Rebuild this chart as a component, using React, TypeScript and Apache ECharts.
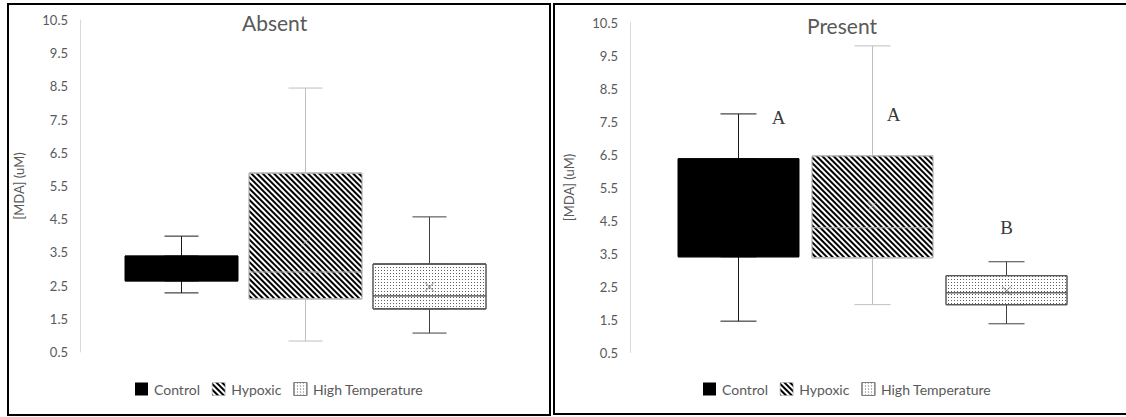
import React, { useEffect, useRef } from "react";
import * as echarts from "echarts";

// ---------- data ----------
const categories = ["Control", "Hypoxic", "High Temperature"];
const panelTitles = ["Absent", "Present"];
const yAxisName = "[MDA] (uM)";
const yTickLabels = [0.5, 1.5, 2.5, 3.5, 4.5, 5.5, 6.5, 7.5, 8.5, 9.5, 10.5];

// box values: [min, Q1, median, Q3, max]
const absentControl = [2.28, 2.64, 3.0, 3.39, 3.99];
const absentHypoxic = [0.83, 2.1, 2.91, 5.89, 8.45];
const absentHighTemp = [1.07, 1.8, 2.19, 3.15, 4.57];
const presentControl = [1.45, 3.4, 4.9, 6.37, 7.73];
const presentHypoxic = [1.95, 3.37, 4.28, 6.46, 9.79];
const presentHighTemp = [1.37, 1.95, 2.31, 2.83, 3.25];

// means (x markers); null = not visible
const absentMeans = [null, 3.81, 2.46];
const presentMeans = [null, 4.94, 2.37];

// significance letters (Present panel)
const presentLetters = ["A", "A", "B"];
const presentLetterValues = [7.61, 7.7, 4.28];

// ---------- styles ----------
const FONT = "Lato";
const GREY = "#595959";
const hatchDecal = {
  symbol: "rect",
  symbolSize: 1,
  color: "#000",
  backgroundColor: "#fff",
  dashArrayX: [1, 0],
  dashArrayY: [1.5, 1.5],
  rotation: Math.PI / 4,
};
const dotDecal = {
  symbol: "rect",
  symbolSize: 1,
  color: "#606060",
  backgroundColor: "#fff",
  dashArrayX: [1, 2],
  dashArrayY: [1, 2],
  rotation: 0,
};
const boxStyles = [
  { color: "#000", borderColor: "#000", borderWidth: 1 },
  { color: "#fff", borderColor: "#bfbfbf", borderWidth: 1, decal: hatchDecal },
  { color: "#fff", borderColor: "#595959", borderWidth: 1, decal: dotDecal },
];
const whiskerColors = ["#1a1a1a", "#bfbfbf", "#404040"];
const legendStyles = [
  { color: "#000", borderWidth: 0 },
  { color: "#fff", decal: hatchDecal, borderColor: "#bfbfbf", borderWidth: 0.5 },
  { color: "#fff", decal: dotDecal, borderColor: "#7f7f7f", borderWidth: 1 },
];
const meanColors = ["#000", "#c0c0c0", "#595959"];
const letterOffsets = [
  [40, 0],
  [21, 0],
  [0, 0],
];

const panels = [
  {
    grid: { left: 119.5, top: 20, width: 372, height: 332 },
    yOffset: 39.5,
    boxWidth: 113,
    capWidth: 34,
    boxes: [absentControl, absentHypoxic, absentHighTemp],
    means: absentMeans,
    titleLeft: 242,
    titleTop: 12,
    legendLeft: 135,
    letters: null as null | string[],
    letterValues: null as null | number[],
  },
  {
    grid: { left: 671.5, top: 22.5, width: 402, height: 330 },
    yOffset: 41.5,
    boxWidth: 121,
    capWidth: 36,
    boxes: [presentControl, presentHypoxic, presentHighTemp],
    means: presentMeans,
    titleLeft: 807,
    titleTop: 15,
    legendLeft: 703,
    letters: presentLetters,
    letterValues: presentLetterValues,
  },
];

function buildOption() {
  const grids: any[] = [];
  const xAxes: any[] = [];
  const yAxes: any[] = [];
  const series: any[] = [];
  const titles: any[] = [];
  const legends: any[] = [];

  panels.forEach((p, pi) => {
    grids.push({ ...p.grid, containLabel: false });
    yAxes.push({
      type: "value",
      gridIndex: pi,
      min: 0.5,
      max: 10.5,
      interval: 0.5,
      offset: p.yOffset,
      name: yAxisName,
      nameLocation: "middle",
      nameRotate: 90,
      nameGap: 55,
      nameTextStyle: { fontFamily: FONT, fontSize: 13, color: GREY },
      axisLine: { show: true, lineStyle: { color: "#d9d9d9", width: 1 } },
      axisTick: { show: false },
      splitLine: { show: false },
      axisLabel: {
        margin: 12,
        fontFamily: FONT,
        fontSize: 13,
        color: GREY,
        formatter: (v: number) =>
          yTickLabels.some((t) => Math.abs(t - v) < 1e-6) ? v.toFixed(1) : "",
      },
    });
    const firstAxis = xAxes.length;
    // hidden category axes: one per boxplot series so boxes are not offset
    categories.forEach((_, ci) => {
      const b = p.boxes[ci];
      // whiskers (narrow caps)
      xAxes.push({ type: "category", gridIndex: pi, data: categories, show: false });
      series.push({
        type: "boxplot",
        name: categories[ci] + " whisker",
        xAxisIndex: xAxes.length - 1,
        yAxisIndex: pi,
        boxWidth: [p.capWidth, p.capWidth],
        encode: { x: 0, y: [1, 2, 3, 4, 5] },
        data: [[ci, ...b]],
        itemStyle: { color: "#fff", borderColor: whiskerColors[ci], borderWidth: 1 },
        silent: true,
        emphasis: { disabled: true },
      });
      // box (Q1..Q3 with median)
      xAxes.push({ type: "category", gridIndex: pi, data: categories, show: false });
      series.push({
        type: "boxplot",
        name: categories[ci],
        xAxisIndex: xAxes.length - 1,
        yAxisIndex: pi,
        boxWidth: [p.boxWidth, p.boxWidth],
        encode: { x: 0, y: [1, 2, 3, 4, 5] },
        data: [[ci, b[1], b[1], b[2], b[3], b[3]]],
        itemStyle: boxStyles[ci],
        silent: true,
        emphasis: { disabled: true },
      });
    });
    // means
    series.push({
      type: "scatter",
      xAxisIndex: firstAxis,
      yAxisIndex: pi,
      symbol: "path://M0,0L10,10M10,0L0,10",
      symbolSize: 9,
      silent: true,
      z: 5,
      data: p.means
        .map((m, i) =>
          m == null
            ? null
            : {
                value: [i, m],
                itemStyle: {
                  color: "rgba(0,0,0,0)",
                  borderColor: meanColors[i],
                  borderWidth: 1,
                },
              }
        )
        .filter(Boolean),
    });
    if (p.letters && p.letterValues) {
      series.push({
        type: "scatter",
        xAxisIndex: firstAxis,
        yAxisIndex: pi,
        symbolSize: 1,
        silent: true,
        z: 6,
        itemStyle: { color: "rgba(0,0,0,0)" },
        data: p.letters.map((l, i) => ({
          value: [i, p.letterValues![i]],
          label: {
            show: true,
            position: "inside",
            formatter: l,
            offset: letterOffsets[i],
            fontFamily: "Liberation Serif",
            fontSize: 19,
            color: "#000",
          },
        })),
      });
    }
    titles.push({
      text: panelTitles[pi],
      left: p.titleLeft,
      top: p.titleTop,
      padding: 0,
      textStyle: { fontFamily: FONT, fontSize: 21, fontWeight: "normal", color: GREY },
    });
    legends.push({
      data: categories.map((c, i) => ({ name: c, itemStyle: legendStyles[i] })),
      left: p.legendLeft,
      top: 382,
      padding: 0,
      icon: "rect",
      itemWidth: 13,
      itemHeight: 13,
      itemGap: 12,
      selectedMode: false,
      textStyle: { fontFamily: FONT, fontSize: 14, color: GREY, padding: [0, 0, 0, 1] },
    });
  });

  return {
    animation: false,
    backgroundColor: "#fff",
    title: titles,
    legend: legends,
    grid: grids,
    xAxis: xAxes,
    yAxis: yAxes,
    series,
    graphic: [
      {
        type: "rect",
        shape: { x: 8, y: 4, width: 542, height: 411 },
        style: { fill: "none", stroke: "#000", lineWidth: 2 },
        silent: true,
      },
      {
        type: "rect",
        shape: { x: 554, y: 4, width: 600, height: 410 },
        style: { fill: "none", stroke: "#000", lineWidth: 2 },
        silent: true,
      },
    ],
  };
}

export default function App() {
  const ref = useRef<HTMLDivElement>(null);
  useEffect(() => {
    if (!ref.current) return;
    const chart = echarts.init(ref.current, null, { renderer: "svg" });
    chart.setOption(buildOption() as any);
    return () => chart.dispose();
  }, []);
  return (
    <div
      ref={ref}
      style={{ position: "absolute", left: 0, top: 0, width: 1126, height: 417 }}
    />
  );
}
